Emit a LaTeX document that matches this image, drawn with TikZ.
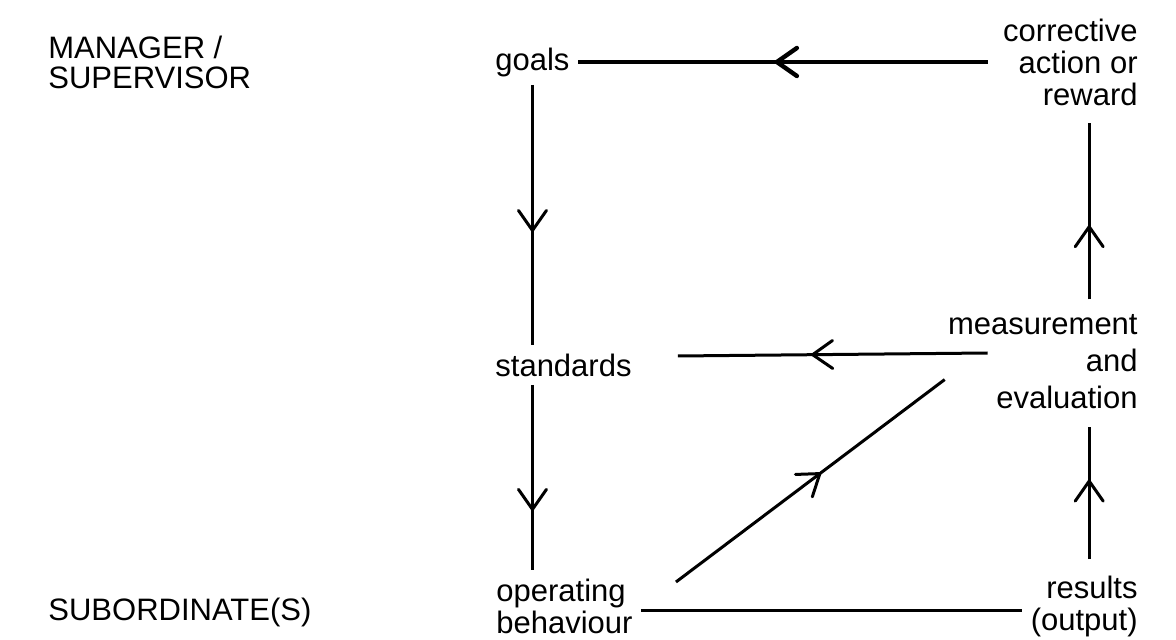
\documentclass[tikz,border=0pt]{standalone}
\usepackage{fontspec}
\setmainfont{Liberation Sans}
\usetikzlibrary{arrows.meta,decorations.markings}

\begin{document}
\begin{tikzpicture}[x=0.5pt,y=-0.5pt,
  lbl/.style={inner sep=4pt, font=\fontsize{15.5}{16}\selectfont},
  flow/.style={line width=1.5pt},
  midarrow/.style={postaction={decorate}, decoration={markings,
    mark=at position #1 with {\arrow{Straight Barb[length=10pt,width=14pt,round]}}}},
  midarrow/.default=0.5]
\useasboundingbox (0,0) rectangle (1176,640);
% levels
\node[lbl, anchor=west, align=left, font=\fontsize{15.5}{15}\selectfont] (mgr) at (40,62) {MANAGER /\\SUPERVISOR};
\node[lbl, anchor=west] (sub) at (40,612) {SUBORDINATE(S)};
% left column
\node[lbl, anchor=west] (goals) at (487,62) {goals};
\node[lbl, anchor=west] (std) at (487,365) {standards};
\node[lbl, anchor=west, align=left] (op) at (488,606) {operating\\behaviour};
% right column
\node[lbl, anchor=east, align=right] (corr) at (1146,62) {corrective\\action or\\reward};
\node[lbl, anchor=east, align=right, font=\fontsize{15.5}{18.5}\selectfont] (meas) at (1146,362) {measurement\\and\\evaluation};
\node[lbl, anchor=east, align=right] (res) at (1146,606) {results\\(output)};
\coordinate (rc) at ([xshift=2.5pt]res.north);
\coordinate (mtop) at (rc |- meas.north);
\coordinate (mbot) at (rc |- meas.south);
\coordinate (cbot) at (rc |- corr.south);
% connectors
\draw[flow, line width=2.2pt, midarrow=0.52] ([xshift=-3.5pt]corr.west) -- (goals.east);
\draw[flow, midarrow=0.565] (goals.south) -- (goals.south |- std.north);
\draw[flow, midarrow=0.68] (goals.south |- std.south) -- (goals.south |- op.north);
\draw[flow, midarrow=0.57] ([shift={(24pt,4.5pt)}]meas.west) -- ([shift={(19pt,4.5pt)}]std.east);
\draw[flow, midarrow=0.42] ([yshift=3.5pt]mtop) -- ([yshift=-4.5pt]cbot);
\draw[flow, midarrow=0.6] ([yshift=4pt]rc) -- ([yshift=-4.5pt]mbot);
\draw[flow, midarrow=0.54] ([shift={(17.5pt,12pt)}]op.east) -- ([shift={(2.5pt,19pt)}]meas.south west);
\draw[flow] ([yshift=-2pt]op.east) -- ([yshift=-2pt]res.west);
\end{tikzpicture}
\end{document}
